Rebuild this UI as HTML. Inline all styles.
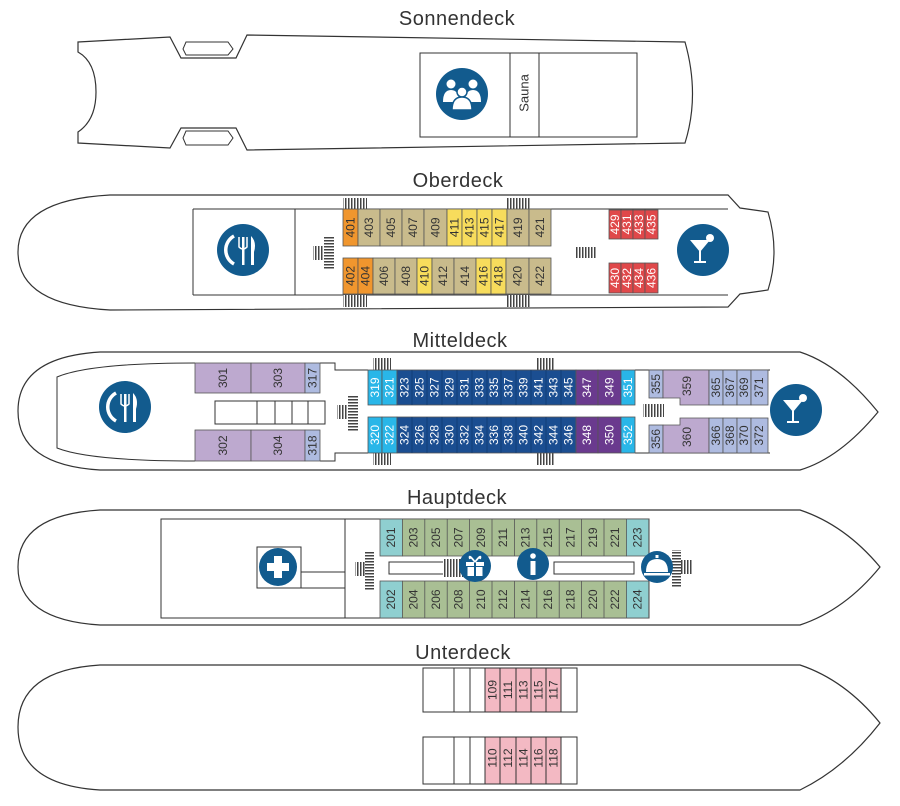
<!DOCTYPE html>
<html><head><meta charset="utf-8"><style>
html,body{margin:0;padding:0;background:#fff;}
svg{display:block;}
text{font-family:"Liberation Sans",sans-serif;}
.t{font-size:12px;fill:#333;text-anchor:middle;dominant-baseline:central;}
.w{fill:#fff;}
.h{font-size:20px;fill:#333;text-anchor:middle;letter-spacing:0.5px;}
.o{fill:#fff;stroke:#333;stroke-width:1.2;}
.l{fill:none;stroke:#333;stroke-width:1;}
.c{stroke:#555;stroke-width:0.8;}
</style></head><body>
<svg width="900" height="806" viewBox="0 0 900 806" xmlns="http://www.w3.org/2000/svg">
<defs>
<pattern id="st" width="3" height="10" patternUnits="userSpaceOnUse"><rect width="3" height="10" fill="#fff"/><rect width="1.5" height="10" fill="#444"/></pattern>
<pattern id="sth" width="10" height="3" patternUnits="userSpaceOnUse"><rect width="10" height="3" fill="#fff"/><rect width="10" height="1.5" fill="#444"/></pattern>
</defs>

<!-- Titles -->
<text class="h" x="457" y="25">Sonnendeck</text>
<text class="h" x="458" y="187">Oberdeck</text>
<text class="h" x="460" y="347">Mitteldeck</text>
<text class="h" x="457" y="504">Hauptdeck</text>
<text class="h" x="463" y="659">Unterdeck</text>

<!-- Sonnendeck -->
<path class="o" d="M78,42 L170,37 L181,58 L236,58 L247,35 L685,42 Q700,95 685,143 L247,150 L236,128 L181,128 L170,148 L78,143 L78,132 Q96,120 96,92 Q96,62 78,52 Z"/>
<path class="l" d="M186,42 L228,42 L233,49 L228,55 L186,55 L183,49 Z"/>
<path class="l" d="M186,131 L228,131 L233,138 L228,145 L186,145 L183,138 Z"/>
<rect class="l" x="420" y="53" width="217" height="84"/>
<line class="l" x1="510" y1="53" x2="510" y2="137"/>
<line class="l" x1="539" y1="53" x2="539" y2="137"/>
<text x="524" y="93" transform="rotate(-90 524 93)" style="font-size:13px;fill:#333;text-anchor:middle;dominant-baseline:central">Sauna</text>
<circle cx="462" cy="94" r="26" fill="#125b8e"/>
<circle cx="451" cy="84" r="4.5" fill="#fff"/><circle cx="473" cy="84" r="4.5" fill="#fff"/>
<path d="M443,102 Q443,90 451,90 Q459,90 459,102 Z M465,102 Q465,90 473,90 Q481,90 481,102 Z" fill="#fff"/>
<circle cx="462" cy="92" r="5" fill="#fff" stroke="#125b8e" stroke-width="1.5"/>
<path d="M452,110 Q452,97 462,97 Q472,97 472,110 Z" fill="#fff" stroke="#125b8e" stroke-width="1.5"/>

<!-- Oberdeck -->
<path class="o" d="M110,195 L728,195 L740,208 L768,212 Q780,252 768,290 L740,294 L728,307 L110,310 Q18,305 18,252 Q18,200 110,195 Z"/>
<line class="l" x1="193" y1="209" x2="728" y2="209"/>
<line class="l" x1="193" y1="295" x2="728" y2="295"/>
<line class="l" x1="193" y1="209" x2="193" y2="295"/>
<line class="l" x1="295" y1="209" x2="295" y2="295"/>
<rect x="343" y="198" width="24" height="11" fill="url(#st)"/><rect x="507" y="198" width="23" height="11" fill="url(#st)"/>
<rect x="343" y="295" width="24" height="12" fill="url(#st)"/><rect x="507" y="295" width="23" height="12" fill="url(#st)"/>
<rect x="575" y="247" width="21" height="11" fill="url(#st)"/>
<rect x="324" y="236" width="10" height="34" fill="url(#sth)"/><rect x="313" y="246" width="11" height="14" fill="url(#st)"/>
<g class="c">
<rect x="343" y="209" width="15" height="37" fill="#f0962e"/><rect x="358" y="209" width="22" height="37" fill="#c9bb8c"/><rect x="380" y="209" width="22" height="37" fill="#c9bb8c"/><rect x="402" y="209" width="22" height="37" fill="#c9bb8c"/><rect x="424" y="209" width="23" height="37" fill="#c9bb8c"/><rect x="447" y="209" width="15" height="37" fill="#f7dc5c"/><rect x="462" y="209" width="15" height="37" fill="#f7dc5c"/><rect x="477" y="209" width="15" height="37" fill="#f7dc5c"/><rect x="492" y="209" width="15" height="37" fill="#f7dc5c"/><rect x="507" y="209" width="22" height="37" fill="#c9bb8c"/><rect x="529" y="209" width="22" height="37" fill="#c9bb8c"/>
<rect x="343" y="258" width="15" height="36" fill="#f0962e"/><rect x="358" y="258" width="15" height="36" fill="#f0962e"/><rect x="373" y="258" width="22" height="36" fill="#c9bb8c"/><rect x="395" y="258" width="22" height="36" fill="#c9bb8c"/><rect x="417" y="258" width="15" height="36" fill="#f7dc5c"/><rect x="432" y="258" width="22" height="36" fill="#c9bb8c"/><rect x="454" y="258" width="22" height="36" fill="#c9bb8c"/><rect x="476" y="258" width="15" height="36" fill="#f7dc5c"/><rect x="491" y="258" width="15" height="36" fill="#f7dc5c"/><rect x="506" y="258" width="23" height="36" fill="#c9bb8c"/><rect x="529" y="258" width="22" height="36" fill="#c9bb8c"/>
<rect x="609" y="210" width="12" height="29" fill="#e0484a"/><rect x="621" y="210" width="12" height="29" fill="#e0484a"/><rect x="633" y="210" width="12" height="29" fill="#e0484a"/><rect x="645" y="210" width="13" height="29" fill="#e0484a"/>
<rect x="609" y="263" width="12" height="30" fill="#e0484a"/><rect x="621" y="263" width="12" height="30" fill="#e0484a"/><rect x="633" y="263" width="12" height="30" fill="#e0484a"/><rect x="645" y="263" width="13" height="30" fill="#e0484a"/>
</g>
<g class="t">
<text transform="rotate(-90 350.5 227.5)" x="350.5" y="227.5">401</text><text transform="rotate(-90 369 227.5)" x="369" y="227.5">403</text><text transform="rotate(-90 391 227.5)" x="391" y="227.5">405</text><text transform="rotate(-90 413 227.5)" x="413" y="227.5">407</text><text transform="rotate(-90 435.5 227.5)" x="435.5" y="227.5">409</text><text transform="rotate(-90 454.5 227.5)" x="454.5" y="227.5">411</text><text transform="rotate(-90 469.5 227.5)" x="469.5" y="227.5">413</text><text transform="rotate(-90 484.5 227.5)" x="484.5" y="227.5">415</text><text transform="rotate(-90 499.5 227.5)" x="499.5" y="227.5">417</text><text transform="rotate(-90 518 227.5)" x="518" y="227.5">419</text><text transform="rotate(-90 540 227.5)" x="540" y="227.5">421</text>
<text transform="rotate(-90 350.5 276)" x="350.5" y="276">402</text><text transform="rotate(-90 365.5 276)" x="365.5" y="276">404</text><text transform="rotate(-90 384 276)" x="384" y="276">406</text><text transform="rotate(-90 406 276)" x="406" y="276">408</text><text transform="rotate(-90 424.5 276)" x="424.5" y="276">410</text><text transform="rotate(-90 443 276)" x="443" y="276">412</text><text transform="rotate(-90 465 276)" x="465" y="276">414</text><text transform="rotate(-90 483.5 276)" x="483.5" y="276">416</text><text transform="rotate(-90 498.5 276)" x="498.5" y="276">418</text><text transform="rotate(-90 517.5 276)" x="517.5" y="276">420</text><text transform="rotate(-90 540 276)" x="540" y="276">422</text>
</g>
<g class="t w">
<text transform="rotate(-90 615 224.5)" x="615" y="224.5">429</text><text transform="rotate(-90 627 224.5)" x="627" y="224.5">431</text><text transform="rotate(-90 639 224.5)" x="639" y="224.5">433</text><text transform="rotate(-90 651.5 224.5)" x="651.5" y="224.5">435</text>
<text transform="rotate(-90 615 278)" x="615" y="278">430</text><text transform="rotate(-90 627 278)" x="627" y="278">432</text><text transform="rotate(-90 639 278)" x="639" y="278">434</text><text transform="rotate(-90 651.5 278)" x="651.5" y="278">436</text>
</g>
<!-- dining icon -->
<circle cx="243" cy="250" r="26" fill="#125b8e"/>
<path d="M234,236 A16,16 0 0 0 234,264" fill="none" stroke="#fff" stroke-width="3.5"/>
<rect x="242" y="237" width="2.5" height="28" fill="#fff"/><path d="M239,237 L239,247 Q243,251 247,247 L247,237" fill="none" stroke="#fff" stroke-width="1.5"/>
<path d="M251,236 Q257,242 254,252 L254,265 L251,265 Z" fill="#fff"/>
<!-- cocktail -->
<circle cx="703" cy="250" r="26" fill="#125b8e"/>
<path d="M690,240 L710,240 L700,252 Z" fill="#fff"/><rect x="699" y="251" width="2" height="11" fill="#fff"/><rect x="694" y="261" width="12" height="2" fill="#fff"/>
<circle cx="710" cy="238" r="4" fill="#fff"/>

<!-- Mitteldeck -->
<path class="o" d="M100,352 L800,352 Q840,365 878,412 Q840,458 800,470 L100,470 Q18,465 18,411 Q18,357 100,352 Z"/>
<path class="l" d="M195,363 Q90,363 57,377 L57,448 Q90,461 195,461"/>
<path class="l" d="M320,363 L335,363 L335,370 L368,370"/>
<path class="l" d="M320,461 L335,461 L335,453 L368,453"/>
<line class="l" x1="635" y1="370" x2="770" y2="370"/>
<line class="l" x1="635" y1="453" x2="770" y2="453"/>
<rect class="l" x="215" y="401" width="110" height="23"/>
<line class="l" x1="257" y1="401" x2="257" y2="424"/><line class="l" x1="275" y1="401" x2="275" y2="424"/><line class="l" x1="292" y1="401" x2="292" y2="424"/><line class="l" x1="308" y1="401" x2="308" y2="424"/>
<rect x="373" y="358" width="18" height="12" fill="url(#st)"/><rect x="537" y="358" width="18" height="12" fill="url(#st)"/>
<rect x="373" y="453" width="18" height="12" fill="url(#st)"/><rect x="537" y="453" width="18" height="12" fill="url(#st)"/>
<rect x="643" y="404" width="21" height="13" fill="url(#st)"/>
<rect x="348" y="395" width="10" height="36" fill="url(#sth)"/><rect x="337" y="405" width="11" height="14" fill="url(#st)"/>
<g class="c">
<rect x="195" y="363" width="56" height="30" fill="#bda9cf"/><rect x="251" y="363" width="54" height="30" fill="#bda9cf"/><rect x="305" y="363" width="15" height="30" fill="#aebbe0"/>
<rect x="195" y="430" width="56" height="31" fill="#bda9cf"/><rect x="251" y="430" width="54" height="31" fill="#bda9cf"/><rect x="305" y="430" width="15" height="31" fill="#aebbe0"/>
<rect x="368" y="370" width="14" height="35" fill="#29b6e8"/><rect x="382" y="370" width="15" height="35" fill="#29b6e8"/>
<rect x="397" y="370" width="179" height="35" fill="#1b4e91"/>
<rect x="576" y="370" width="22" height="35" fill="#6a3a8e"/><rect x="598" y="370" width="23" height="35" fill="#6a3a8e"/><rect x="621" y="370" width="14" height="35" fill="#29b6e8"/>
<rect x="368" y="417" width="14" height="36" fill="#29b6e8"/><rect x="382" y="417" width="15" height="36" fill="#29b6e8"/>
<rect x="397" y="417" width="179" height="36" fill="#1b4e91"/>
<rect x="576" y="417" width="22" height="36" fill="#6a3a8e"/><rect x="598" y="417" width="23" height="36" fill="#6a3a8e"/><rect x="621" y="417" width="14" height="36" fill="#29b6e8"/>
<rect x="649" y="370" width="14" height="28" fill="#aebbe0"/><path d="M663,370 L709,370 L709,405 L680,405 L680,398 L663,398 Z" fill="#bda9cf"/>
<rect x="709" y="370" width="14" height="35" fill="#aebbe0"/><rect x="723" y="370" width="14" height="35" fill="#aebbe0"/><rect x="737" y="370" width="14" height="35" fill="#aebbe0"/><rect x="751" y="370" width="17" height="35" fill="#aebbe0"/>
<rect x="649" y="425" width="14" height="28" fill="#aebbe0"/><path d="M663,453 L709,453 L709,418 L680,418 L680,425 L663,425 Z" fill="#bda9cf"/>
<rect x="709" y="418" width="14" height="35" fill="#aebbe0"/><rect x="723" y="418" width="14" height="35" fill="#aebbe0"/><rect x="737" y="418" width="14" height="35" fill="#aebbe0"/><rect x="751" y="418" width="17" height="35" fill="#aebbe0"/>
</g>
<g stroke="#0e3a70" stroke-width="0.8">
<line x1="412" y1="370" x2="412" y2="405"/><line x1="427" y1="370" x2="427" y2="405"/><line x1="442" y1="370" x2="442" y2="405"/><line x1="457" y1="370" x2="457" y2="405"/><line x1="472" y1="370" x2="472" y2="405"/><line x1="487" y1="370" x2="487" y2="405"/><line x1="501" y1="370" x2="501" y2="405"/><line x1="516" y1="370" x2="516" y2="405"/><line x1="531" y1="370" x2="531" y2="405"/><line x1="546" y1="370" x2="546" y2="405"/><line x1="561" y1="370" x2="561" y2="405"/>
<line x1="412" y1="417" x2="412" y2="453"/><line x1="427" y1="417" x2="427" y2="453"/><line x1="442" y1="417" x2="442" y2="453"/><line x1="457" y1="417" x2="457" y2="453"/><line x1="472" y1="417" x2="472" y2="453"/><line x1="487" y1="417" x2="487" y2="453"/><line x1="501" y1="417" x2="501" y2="453"/><line x1="516" y1="417" x2="516" y2="453"/><line x1="531" y1="417" x2="531" y2="453"/><line x1="546" y1="417" x2="546" y2="453"/><line x1="561" y1="417" x2="561" y2="453"/>
</g>
<g class="t">
<text transform="rotate(-90 223 378)" x="223" y="378">301</text><text transform="rotate(-90 278 378)" x="278" y="378">303</text><text transform="rotate(-90 312.5 378)" x="312.5" y="378">317</text>
<text transform="rotate(-90 223 445.5)" x="223" y="445.5">302</text><text transform="rotate(-90 278 445.5)" x="278" y="445.5">304</text><text transform="rotate(-90 312.5 445.5)" x="312.5" y="445.5">318</text>
<text transform="rotate(-90 656 384)" x="656" y="384">355</text><text transform="rotate(-90 687 386)" x="687" y="386">359</text>
<text transform="rotate(-90 716 387.5)" x="716" y="387.5">365</text><text transform="rotate(-90 730 387.5)" x="730" y="387.5">367</text><text transform="rotate(-90 744 387.5)" x="744" y="387.5">369</text><text transform="rotate(-90 759 387.5)" x="759" y="387.5">371</text>
<text transform="rotate(-90 656 439)" x="656" y="439">356</text><text transform="rotate(-90 687 437)" x="687" y="437">360</text>
<text transform="rotate(-90 716 435.5)" x="716" y="435.5">366</text><text transform="rotate(-90 730 435.5)" x="730" y="435.5">368</text><text transform="rotate(-90 744 435.5)" x="744" y="435.5">370</text><text transform="rotate(-90 759 435.5)" x="759" y="435.5">372</text>
</g>
<g class="t w">
<text transform="rotate(-90 375 387.5)" x="375" y="387.5">319</text><text transform="rotate(-90 389.5 387.5)" x="389.5" y="387.5">321</text>
<text transform="rotate(-90 404.5 387.5)" x="404.5" y="387.5">323</text><text transform="rotate(-90 419.5 387.5)" x="419.5" y="387.5">325</text><text transform="rotate(-90 434.5 387.5)" x="434.5" y="387.5">327</text><text transform="rotate(-90 449.5 387.5)" x="449.5" y="387.5">329</text><text transform="rotate(-90 464.5 387.5)" x="464.5" y="387.5">331</text><text transform="rotate(-90 479.5 387.5)" x="479.5" y="387.5">333</text><text transform="rotate(-90 494 387.5)" x="494" y="387.5">335</text><text transform="rotate(-90 508.5 387.5)" x="508.5" y="387.5">337</text><text transform="rotate(-90 523.5 387.5)" x="523.5" y="387.5">339</text><text transform="rotate(-90 538.5 387.5)" x="538.5" y="387.5">341</text><text transform="rotate(-90 553.5 387.5)" x="553.5" y="387.5">343</text><text transform="rotate(-90 568.5 387.5)" x="568.5" y="387.5">345</text>
<text transform="rotate(-90 587 387.5)" x="587" y="387.5">347</text><text transform="rotate(-90 609.5 387.5)" x="609.5" y="387.5">349</text><text transform="rotate(-90 628 387.5)" x="628" y="387.5">351</text>
<text transform="rotate(-90 375 435)" x="375" y="435">320</text><text transform="rotate(-90 389.5 435)" x="389.5" y="435">322</text>
<text transform="rotate(-90 404.5 435)" x="404.5" y="435">324</text><text transform="rotate(-90 419.5 435)" x="419.5" y="435">326</text><text transform="rotate(-90 434.5 435)" x="434.5" y="435">328</text><text transform="rotate(-90 449.5 435)" x="449.5" y="435">330</text><text transform="rotate(-90 464.5 435)" x="464.5" y="435">332</text><text transform="rotate(-90 479.5 435)" x="479.5" y="435">334</text><text transform="rotate(-90 494 435)" x="494" y="435">336</text><text transform="rotate(-90 508.5 435)" x="508.5" y="435">338</text><text transform="rotate(-90 523.5 435)" x="523.5" y="435">340</text><text transform="rotate(-90 538.5 435)" x="538.5" y="435">342</text><text transform="rotate(-90 553.5 435)" x="553.5" y="435">344</text><text transform="rotate(-90 568.5 435)" x="568.5" y="435">346</text>
<text transform="rotate(-90 587 435)" x="587" y="435">348</text><text transform="rotate(-90 609.5 435)" x="609.5" y="435">350</text><text transform="rotate(-90 628 435)" x="628" y="435">352</text>
</g>
<circle cx="125" cy="407" r="26" fill="#125b8e"/>
<path d="M116,393 A16,16 0 0 0 116,421" fill="none" stroke="#fff" stroke-width="3.5"/>
<rect x="124" y="394" width="2.5" height="28" fill="#fff"/><path d="M121,394 L121,404 Q125,408 129,404 L129,394" fill="none" stroke="#fff" stroke-width="1.5"/>
<path d="M133,393 Q139,399 136,409 L136,422 L133,422 Z" fill="#fff"/>
<circle cx="796" cy="410" r="26" fill="#125b8e"/>
<path d="M783,400 L803,400 L793,412 Z" fill="#fff"/><rect x="792" y="411" width="2" height="11" fill="#fff"/><rect x="787" y="421" width="12" height="2" fill="#fff"/>
<circle cx="803" cy="398" r="4" fill="#fff"/>

<!-- Hauptdeck -->
<path class="o" d="M100,510 L800,510 Q845,525 880,567 Q845,610 800,625 L100,625 Q18,620 18,567 Q18,515 100,510 Z"/>
<rect class="l" x="161" y="519" width="488" height="99"/>
<line class="l" x1="345" y1="519" x2="345" y2="618"/>
<rect class="l" x="257" y="547" width="44" height="41"/>
<rect class="l" x="301" y="572" width="44" height="16"/>
<rect class="l" x="389" y="562" width="71" height="12"/>
<rect class="l" x="554" y="562" width="80" height="12"/>
<rect x="443" y="559" width="20" height="18" fill="url(#st)"/>
<rect x="365" y="552" width="9" height="38" fill="url(#sth)"/><rect x="355" y="562" width="10" height="14" fill="url(#st)"/>
<rect x="672" y="550" width="9" height="38" fill="url(#sth)"/><rect x="681" y="560" width="11" height="14" fill="url(#st)"/>
<g class="c">
<rect x="380" y="519" width="22.4" height="37" fill="#8fcfd0"/><rect x="402.4" y="519" width="224" height="37" fill="#a9bf94"/><rect x="626.4" y="519" width="22.4" height="37" fill="#8fcfd0"/>
<rect x="380" y="581" width="22.4" height="37" fill="#8fcfd0"/><rect x="402.4" y="581" width="224" height="37" fill="#a9bf94"/><rect x="626.4" y="581" width="22.4" height="37" fill="#8fcfd0"/>
<line x1="424.8" y1="519" x2="424.8" y2="556"/><line x1="447.2" y1="519" x2="447.2" y2="556"/><line x1="469.6" y1="519" x2="469.6" y2="556"/><line x1="492" y1="519" x2="492" y2="556"/><line x1="514.4" y1="519" x2="514.4" y2="556"/><line x1="536.8" y1="519" x2="536.8" y2="556"/><line x1="559.2" y1="519" x2="559.2" y2="556"/><line x1="581.6" y1="519" x2="581.6" y2="556"/><line x1="604" y1="519" x2="604" y2="556"/>
<line x1="424.8" y1="581" x2="424.8" y2="618"/><line x1="447.2" y1="581" x2="447.2" y2="618"/><line x1="469.6" y1="581" x2="469.6" y2="618"/><line x1="492" y1="581" x2="492" y2="618"/><line x1="514.4" y1="581" x2="514.4" y2="618"/><line x1="536.8" y1="581" x2="536.8" y2="618"/><line x1="559.2" y1="581" x2="559.2" y2="618"/><line x1="581.6" y1="581" x2="581.6" y2="618"/><line x1="604" y1="581" x2="604" y2="618"/>
</g>
<g class="t">
<text transform="rotate(-90 391.2 537.5)" x="391.2" y="537.5">201</text><text transform="rotate(-90 413.6 537.5)" x="413.6" y="537.5">203</text><text transform="rotate(-90 436 537.5)" x="436" y="537.5">205</text><text transform="rotate(-90 458.4 537.5)" x="458.4" y="537.5">207</text><text transform="rotate(-90 480.8 537.5)" x="480.8" y="537.5">209</text><text transform="rotate(-90 503.2 537.5)" x="503.2" y="537.5">211</text><text transform="rotate(-90 525.6 537.5)" x="525.6" y="537.5">213</text><text transform="rotate(-90 548 537.5)" x="548" y="537.5">215</text><text transform="rotate(-90 570.4 537.5)" x="570.4" y="537.5">217</text><text transform="rotate(-90 592.8 537.5)" x="592.8" y="537.5">219</text><text transform="rotate(-90 615.2 537.5)" x="615.2" y="537.5">221</text><text transform="rotate(-90 637.6 537.5)" x="637.6" y="537.5">223</text>
<text transform="rotate(-90 391.2 599.5)" x="391.2" y="599.5">202</text><text transform="rotate(-90 413.6 599.5)" x="413.6" y="599.5">204</text><text transform="rotate(-90 436 599.5)" x="436" y="599.5">206</text><text transform="rotate(-90 458.4 599.5)" x="458.4" y="599.5">208</text><text transform="rotate(-90 480.8 599.5)" x="480.8" y="599.5">210</text><text transform="rotate(-90 503.2 599.5)" x="503.2" y="599.5">212</text><text transform="rotate(-90 525.6 599.5)" x="525.6" y="599.5">214</text><text transform="rotate(-90 548 599.5)" x="548" y="599.5">216</text><text transform="rotate(-90 570.4 599.5)" x="570.4" y="599.5">218</text><text transform="rotate(-90 592.8 599.5)" x="592.8" y="599.5">220</text><text transform="rotate(-90 615.2 599.5)" x="615.2" y="599.5">222</text><text transform="rotate(-90 637.6 599.5)" x="637.6" y="599.5">224</text>
</g>
<circle cx="278" cy="567" r="19" fill="#125b8e"/>
<path d="M274,556 h8 v7 h7 v8 h-7 v7 h-8 v-7 h-7 v-8 h7 z" fill="#fff"/>
<circle cx="475" cy="566" r="16" fill="#125b8e"/>
<rect x="466" y="562" width="18" height="4" fill="#fff"/><rect x="467.5" y="567" width="15" height="9" fill="#fff"/><rect x="474" y="562" width="2" height="14" fill="#125b8e"/>
<path d="M475,562 Q468,553 470,559 M475,562 Q482,553 480,559" stroke="#fff" stroke-width="1.8" fill="none"/>
<circle cx="533" cy="564" r="16" fill="#125b8e"/>
<circle cx="533" cy="556" r="2.8" fill="#fff"/><rect x="530.5" y="561" width="5" height="14" fill="#fff"/>
<circle cx="657" cy="567" r="16" fill="#125b8e"/>
<path d="M646,572 Q646,559 657,559 Q668,559 668,572 Z" fill="#fff"/><rect x="644" y="573" width="26" height="2.5" fill="#fff"/><rect x="655.5" y="555" width="3" height="3" fill="#fff"/>

<!-- Unterdeck -->
<path class="o" d="M100,665 L800,665 Q845,680 880,723 Q845,768 800,790 L100,790 Q18,785 18,727 Q18,670 100,665 Z"/>
<g class="c">
<rect x="485" y="668" width="76" height="44" fill="#f3b9c3"/>
<rect x="485" y="737" width="76" height="47" fill="#f3b9c3"/>
</g>
<rect class="l" x="423" y="668" width="154" height="44"/>
<rect class="l" x="423" y="737" width="154" height="47"/>
<g class="l">
<line x1="454" y1="668" x2="454" y2="712"/><line x1="470" y1="668" x2="470" y2="712"/><line x1="485" y1="668" x2="485" y2="712"/><line x1="500" y1="668" x2="500" y2="712"/><line x1="516" y1="668" x2="516" y2="712"/><line x1="531" y1="668" x2="531" y2="712"/><line x1="546" y1="668" x2="546" y2="712"/><line x1="561" y1="668" x2="561" y2="712"/>
<line x1="454" y1="737" x2="454" y2="784"/><line x1="470" y1="737" x2="470" y2="784"/><line x1="485" y1="737" x2="485" y2="784"/><line x1="500" y1="737" x2="500" y2="784"/><line x1="516" y1="737" x2="516" y2="784"/><line x1="531" y1="737" x2="531" y2="784"/><line x1="546" y1="737" x2="546" y2="784"/><line x1="561" y1="737" x2="561" y2="784"/>
</g>
<g class="t">
<text transform="rotate(-90 492.5 690)" x="492.5" y="690">109</text><text transform="rotate(-90 508 690)" x="508" y="690">111</text><text transform="rotate(-90 523.5 690)" x="523.5" y="690">113</text><text transform="rotate(-90 538.5 690)" x="538.5" y="690">115</text><text transform="rotate(-90 553.5 690)" x="553.5" y="690">117</text>
<text transform="rotate(-90 492.5 758)" x="492.5" y="758">110</text><text transform="rotate(-90 508 758)" x="508" y="758">112</text><text transform="rotate(-90 523.5 758)" x="523.5" y="758">114</text><text transform="rotate(-90 538.5 758)" x="538.5" y="758">116</text><text transform="rotate(-90 553.5 758)" x="553.5" y="758">118</text>
</g>
</svg>
</body></html>
